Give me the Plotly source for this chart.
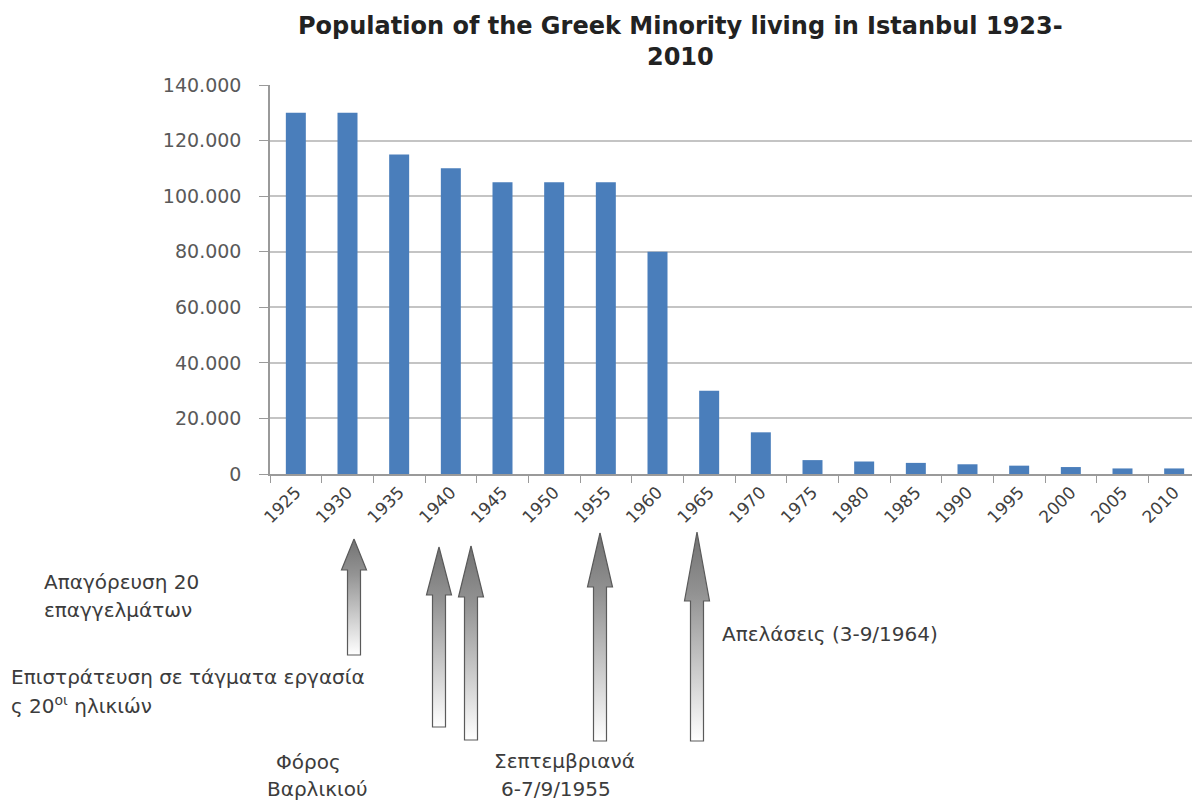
import plotly.graph_objects as go

# ---- data ----
years = [1925, 1930, 1935, 1940, 1945, 1950, 1955, 1960, 1965, 1970,
         1975, 1980, 1985, 1990, 1995, 2000, 2005, 2010]
population = [130000, 130000, 115000, 110000, 105000, 105000, 105000, 80000,
              30000, 15000, 5000, 4500, 4000, 3500, 3000, 2500, 2000, 2000]
y_ticks = [0, 20000, 40000, 60000, 80000, 100000, 120000, 140000]

title_text = "Population of the Greek Minority living in Istanbul 1923-<br>2010"

# event arrows (decoration, in page pixels): centre x, tip y, head base y, bottom y
arrow_cx = [354, 439, 471, 600, 697]
arrow_tip = [539, 547, 546, 533, 532]
arrow_base = [570, 595, 597, 587, 601]
arrow_bottom = [655, 727, 740, 741, 741]

# event labels: text, left x, centre y (page pixels)
labels = [
    ("Απαγόρευση 20", 42, 582),
    ("επαγγελμάτων", 42, 610),
    ("Επιστράτευση σε τάγματα εργασία", 9, 677),
    ("ς 20<sup>οι</sup> ηλικιών", 9, 705),
    ("Απελάσεις (3-9/1964)", 720, 634),
    ("Φόρος", 274, 762),
    ("Βαρλικιού", 265, 789),
    ("Σεπτεμβριανά", 492, 761),
    ("6-7/9/1955", 499, 789),
]

# ---- layout geometry (page pixels; the page body adds an 8px offset) ----
OFF = 8
PAGE_W, PAGE_H = 1200, 802
W, H = PAGE_W - OFF, PAGE_H - OFF
PLOT_LEFT, PLOT_TOP, Y0_PAGE = 270, 85, 474
ML, MR, MT, MB = PLOT_LEFT - OFF, 0, PLOT_TOP - OFF, 0
PW, PH = W - ML - MR, H - MT - MB
main_bottom = (PAGE_H - Y0_PAGE) / PH


def px_x(px):
    return (px - PLOT_LEFT) / PW


def px_y(py):
    return (PAGE_H - py) / PH


FONT = "DejaVu Sans"

fig = go.Figure()
fig.add_trace(go.Bar(
    x=[str(y) for y in years], y=population,
    marker=dict(color="#4a7ebb", line=dict(width=0)),
    xaxis="x", yaxis="y", showlegend=False,
))

hw, sw = 12.5, 6.5
for cx, tip, base, bot in zip(arrow_cx, arrow_tip, arrow_base, arrow_bottom):
    xs = [cx, cx + hw, cx + sw, cx + sw, cx - sw, cx - sw, cx - hw, cx]
    ys = [tip, base, base, bot, bot, base, base, tip]
    fig.add_trace(go.Scatter(
        x=xs, y=ys, mode="lines", fill="toself",
        line=dict(color="#5a5a5a", width=1.2),
        fillgradient=dict(type="vertical",
                          colorscale=[[0, "#ffffff"], [0.7, "#939393"], [1, "#727272"]]),
        xaxis="x2", yaxis="y2", showlegend=False, hoverinfo="skip",
    ))

annotations = [dict(
    text="<b>" + title_text + "</b>", xref="paper", yref="paper",
    x=px_x(680), y=px_y(41), xanchor="center", yanchor="middle",
    showarrow=False, font=dict(family=FONT, size=24, color="#222222"),
)]
for txt, lx, cy in labels:
    annotations.append(dict(
        text=txt, xref="paper", yref="paper", x=px_x(lx), y=px_y(cy),
        xanchor="left", yanchor="middle", align="left", showarrow=False,
        font=dict(family=FONT, size=20, color="#3c3c3c"),
    ))

fig.update_layout(
    width=W, height=H,
    margin=dict(l=ML, r=MR, t=MT, b=MB, pad=0, autoexpand=False),
    paper_bgcolor="white", plot_bgcolor="white",
    separators=",.",
    bargap=0.613,
    annotations=annotations,
    xaxis=dict(
        type="category", domain=[0, 1], anchor="y", automargin=False,
        tickson="boundaries", ticks="outside", ticklen=7, tickcolor="#9a9a9a",
        tickangle=-45, tickfont=dict(family=FONT, size=17, color="#404040"),
        showline=True, linecolor="#9a9a9a", linewidth=1.5,
        showgrid=False, zeroline=False,
    ),
    yaxis=dict(
        domain=[main_bottom, 1], anchor="x", range=[0, 140000], automargin=False,
        tickvals=y_ticks, tickformat=",d",
        ticks="outside", ticklen=9, tickcolor="#9a9a9a", ticklabelstandoff=14,
        tickfont=dict(family=FONT, size=19, color="#595959"),
        showline=True, linecolor="#9a9a9a", linewidth=1.5,
        showgrid=True, gridcolor="#c4c4c4", gridwidth=1.5, zeroline=False,
    ),
    xaxis2=dict(domain=[0, 1], anchor="y2", range=[PLOT_LEFT, PAGE_W], visible=False),
    yaxis2=dict(domain=[0, main_bottom], anchor="x2", range=[PAGE_H, Y0_PAGE], visible=False),
)

fig.write_html("out.html")
